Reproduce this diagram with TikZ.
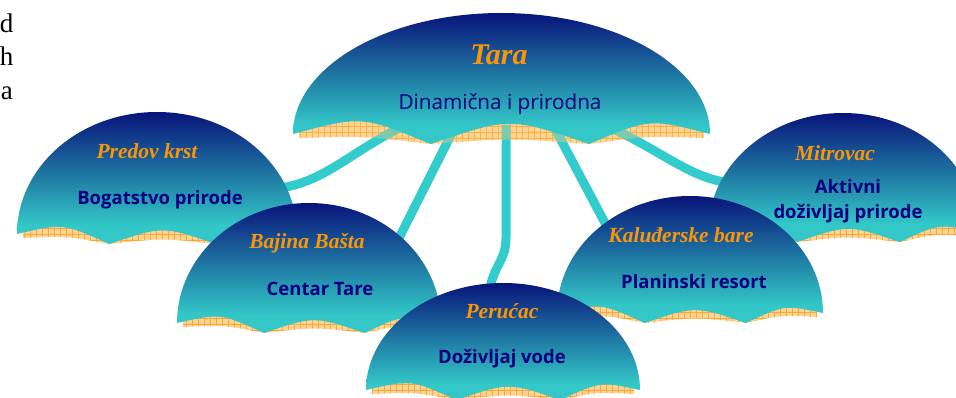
\documentclass[tikz,border=0pt]{standalone}
\usepackage{fontspec}
\setmainfont{Liberation Serif}
\newfontfamily\subfont{Open Sans}
\definecolor{cteal}{RGB}{51,199,200}
\definecolor{cmid}{RGB}{32,125,165}
\definecolor{cnavy}{RGB}{8,20,122}
\definecolor{corange}{RGB}{250,150,10}
\definecolor{cnavytext}{RGB}{0,0,128}
\definecolor{linfill}{RGB}{255,212,145}
\definecolor{linline}{RGB}{248,168,60}
\definecolor{conn}{RGB}{51,204,204}
\pgfdeclareverticalshading{dome}{100bp}{color(0bp)=(cteal); color(32bp)=(cteal); color(50bp)=(cmid); color(75bp)=(cnavy); color(100bp)=(cnavy)}
\tikzset{
  title/.style={font=\fontsize{21.5}{24}\selectfont\bfseries\itshape, text=corange, anchor=base, inner sep=0pt},
  subtitle/.style={font=\subfont\fontsize{18.5}{22}\selectfont\bfseries, text=cnavytext, anchor=base, inner sep=0pt},
  connector/.style={draw=conn, line width=9pt},
  sidetext/.style={font=\fontsize{27}{32}\selectfont, anchor=base east, inner sep=0pt},
  liningline/.style={draw=linline, line width=0.45pt},
}
% geometry of an umbrella: centre x, half width, corner y, dome height (pixel units, y down)
\newcommand\umbSetup[4]{%
  \pgfmathsetmacro\uL{#1-#2}%
  \pgfmathsetmacro\uR{#1+#2}%
  \pgfmathsetmacro\uA{#1-#2+0.66*#2}%
  \pgfmathsetmacro\uB{#1-#2+1.42*#2}%
  \pgfmathsetmacro\uY{-#3}%
  \pgfmathsetmacro\uP{-#3-10}%
  \pgfmathsetmacro\uRx{#2}%
  \pgfmathsetmacro\uRy{#4}%
  \pgfmathsetmacro\dLA{0.17*(\uA-\uL)}%
  \pgfmathsetmacro\dAB{0.17*(\uB-\uA)}%
  \pgfmathsetmacro\dBR{0.17*(\uR-\uB)}%
}
\newcommand\umbLiningPath{%
  (\uL+6,\uY+18) -- (\uL+6,\uY-4)
      .. controls ({(\uL+6+\uA)/2},{(\uY-4+\uP)/2+5}) .. (\uA,\uP)
      .. controls ({(\uA+\uB)/2},{\uP+6}) .. (\uB,\uP)
      .. controls ({(\uB+\uR-6)/2},{(\uY-4+\uP)/2+5}) .. (\uR-6,\uY-4)
      -- (\uR-6,\uY+18) -- cycle
}
\newcommand\umbLining[1][1]{%
  \begin{scope}[opacity=#1]
    \clip \umbLiningPath;
    \fill[linfill] (\uL,\uY+20) rectangle (\uR,\uP-2);
    \draw[liningline, xstep=6, ystep=6] (\uL,\uY+20) grid (\uR,\uP-2);
  \end{scope}
}
\newcommand\umbCanopy{%
  \shade[shading=dome] (\uL,\uY)
    arc[start angle=180, end angle=0, x radius=\uRx pt, y radius=\uRy pt]
    .. controls ({(\uR+\uB)/2},{(\uY+\uP)/2+\dBR}) .. (\uB,\uP)
    .. controls ({(\uA+\uB)/2},{\uP+\dAB}) .. (\uA,\uP)
    .. controls ({(\uL+\uA)/2},{(\uY+\uP)/2+\dLA}) .. (\uL,\uY) -- cycle;
}
\begin{document}
\begin{tikzpicture}[x=1pt,y=1pt]
\useasboundingbox (0,0) rectangle (956,-398);
\clip (0,0) rectangle (956,-398);
% cut-off text at left
\node[sidetext] (sd) at (13.5,-33) {d};
\node[sidetext] (sh) at (13.5,-66) {h};
\node[sidetext] (sa) at (13,-100) {a};
% Tara
\umbSetup{501.5}{208.5}{134}{121}
\umbLining
\coordinate (t1) at (405,-125);
\coordinate (t2) at (456,-125);
\coordinate (t3) at (506,-125);
\coordinate (t4) at (553,-125);
\coordinate (t5) at (605,-125);
\coordinate (e1) at (268,-189);
\coordinate (e2) at (398,-240);
\coordinate (b3) at (506,-238);
\coordinate (e3) at (489,-295);
\coordinate (e4) at (614,-240);
\coordinate (e5) at (738,-183);
\draw[connector] (t1) .. controls (345,-155) and (320,-187) .. (e1);
\draw[connector] (t2) -- (e2);
\draw[connector] (t3) -- (b3) .. controls (506,-262) and (492,-266) .. (e3);
\draw[connector] (t4) -- (e4);
\draw[connector] (t5) .. controls (665,-152) and (695,-183) .. (e5);
\umbLining[0.3]
\umbCanopy
\node[title, font=\fontsize{30}{34}\selectfont\bfseries\itshape] (taraT) at (499,-65) {Tara};
\node[subtitle, font=\subfont\fontsize{20.7}{24}\selectfont] (taraS) at (500,-110) {Dinamična i prirodna};
% Predov krst
\umbSetup{157}{140}{234}{122}
\umbLining\umbCanopy
\node[title] (predT) at (147,-159) {Predov krst};
\node[subtitle] (predS) at (160,-205) {Bogatstvo prirode};
% Mitrovac
\umbSetup{843}{135}{232}{119}
\umbLining\umbCanopy
\node[title] (mitT) at (835,-161) {Mitrovac};
\node[subtitle] (mitS1) at (848,-194) {Aktivni};
\node[subtitle] (mitS2) at (848,-219) {doživljaj prirode};
% Bajina Basta
\umbSetup{309}{132}{323}{120}
\umbLining\umbCanopy
\node[title] (bajT) at (307,-249) {Bajina Bašta};
\node[subtitle] (bajS) at (320,-295) {Centar Tare};
% Kaluderske bare
\umbSetup{690}{133}{313}{117}
\umbLining\umbCanopy
\node[title] (kalT) at (681,-243) {Kaluđerske bare};
\node[subtitle] (kalS) at (694,-288) {Planinski resort};
% Perucac
\umbSetup{503}{137}{390}{107}
\umbLining\umbCanopy
\node[title] (perT) at (502,-318) {Perućac};
\node[subtitle] (perS) at (502,-363) {Doživljaj vode};
\end{tikzpicture}
\end{document}
